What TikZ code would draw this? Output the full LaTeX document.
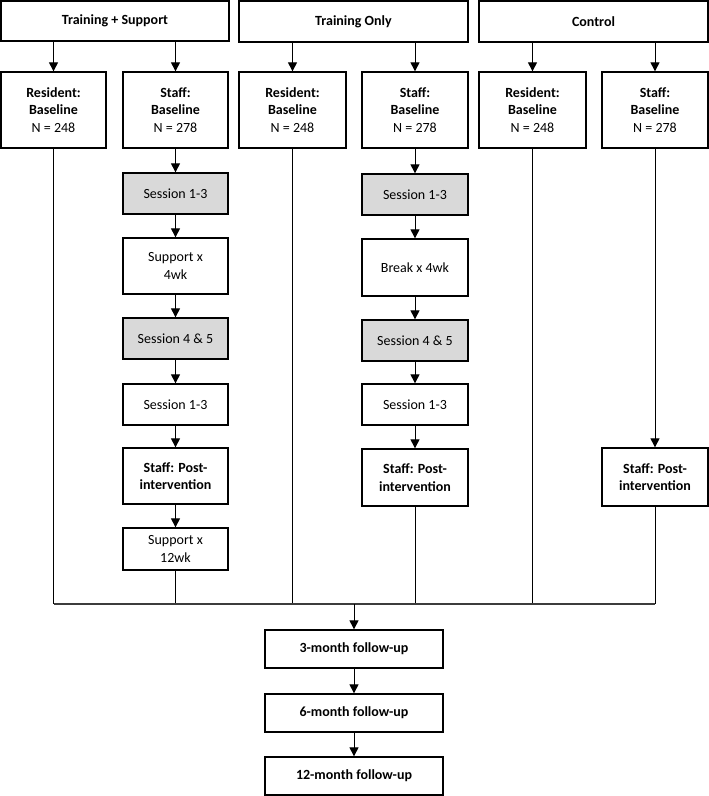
\documentclass[tikz,border=0pt]{standalone}
\usepackage{fontspec}
\setmainfont{Carlito}
\usetikzlibrary{arrows.meta}
\definecolor{boxgrey}{RGB}{217,217,217}
\definecolor{linegrey}{RGB}{60,60,60}
\begin{document}
\begin{tikzpicture}[x=1pt,y=-1pt,
  box/.style={draw=black,line width=1.3pt,fill=white,align=center,inner sep=0pt,
              font=\fontsize{14}{17.5}\selectfont},
  gbox/.style={box,fill=boxgrey},
  sz/.style 2 args={minimum width=#1pt,minimum height=#2pt},
  arr/.style={draw=black,line width=1pt,-{Triangle[length=9pt,width=9pt]}},
  ln/.style={draw=black,line width=1pt},
  hln/.style={draw=linegrey,line width=1.2pt}]
\useasboundingbox (0,0) rectangle (709,796);

% top row
\node[box,sz={228}{40}] (ts) at (115,21) {\textbf{Training + Support}};
\node[box,sz={229}{41}] (to) at (353.5,21.5) {\textbf{Training Only}};
\node[box,sz={229}{41}] (ct) at (593.5,21.5) {\textbf{Control}};

% baseline row
\node[box,sz={105}{76}] (tsR) at (53.5,110) {\textbf{Resident:}\\\textbf{Baseline}\\N = 248};
\node[box,sz={105}{76}] (tsS) at (175.5,110) {\textbf{Staff:}\\\textbf{Baseline}\\N = 278};
\node[box,sz={107}{76}] (toR) at (292.5,110) {\textbf{Resident:}\\\textbf{Baseline}\\N = 248};
\node[box,sz={106}{76}] (toS) at (415,110) {\textbf{Staff:}\\\textbf{Baseline}\\N = 278};
\node[box,sz={107}{76}] (ctR) at (532.5,110) {\textbf{Resident:}\\\textbf{Baseline}\\N = 248};
\node[box,sz={106}{76}] (ctS) at (655,110) {\textbf{Staff:}\\\textbf{Baseline}\\N = 278};

% Training + Support staff column
\node[gbox,sz={105}{41}] (s1a) at (175.5,193.5) {Session 1-3};
\node[box,sz={105}{56}] (sup4) at (175.5,266) {Support x\\4wk};
\node[gbox,sz={105}{41}] (s45a) at (175.5,338.5) {Session 4 \& 5};
\node[box,sz={105}{41}] (s13a) at (175.5,404.5) {Session 1-3};
\node[box,sz={105}{56}] (postA) at (175.5,476) {\textbf{Staff: Post-}\\\textbf{intervention}};
\node[box,sz={105}{42}] (sup12) at (175.5,549) {Support x\\12wk};

% Training Only staff column
\node[gbox,sz={106}{41}] (s1b) at (415,194.5) {Session 1-3};
\node[box,sz={106}{57}] (brk) at (415,267.5) {Break x 4wk};
\node[gbox,sz={106}{41}] (s45b) at (415,340.5) {Session 4 \& 5};
\node[box,sz={106}{41}] (s13b) at (415,404.5) {Session 1-3};
\node[box,sz={106}{57}] (postB) at (415,477.5) {\textbf{Staff: Post-}\\\textbf{intervention}};

% Control staff column
\node[box,sz={106}{58}] (postC) at (655,477) {\textbf{Staff: Post-}\\\textbf{intervention}};

% follow-ups
\node[box,sz={178}{38}] (m3) at (354,649) {\textbf{3-month follow-up}};
\node[box,sz={178}{38}] (m6) at (354,713) {\textbf{6-month follow-up}};
\node[box,sz={178}{38}] (m12) at (354,776) {\textbf{12-month follow-up}};

\coordinate (j) at (354,604);

% arrows from top boxes
\foreach \a/\b in {ts/tsR,ts/tsS,to/toR,to/toS,ct/ctR,ct/ctS}
  \draw[arr] (\a.south -| \b.north) -- (\b.north);

% staff chains
\foreach \a/\b in {tsS/s1a,s1a/sup4,sup4/s45a,s45a/s13a,s13a/postA,postA/sup12,
                   toS/s1b,s1b/brk,brk/s45b,s45b/s13b,s13b/postB,ctS/postC}
  \draw[arr] (\a.south) -- (\b.north);

% lines down to the junction
\foreach \a in {tsR,sup12,toR,postB,ctR,postC}
  \draw[ln] (\a.south) -- (\a.south |- j);
\draw[hln] (tsR.south |- j) -- (postC.south |- j);

% follow-up chain
\draw[arr] (j) -- (m3.north);
\draw[arr] (m3.south) -- (m6.north);
\draw[arr] (m6.south) -- (m12.north);
\end{tikzpicture}
\end{document}
